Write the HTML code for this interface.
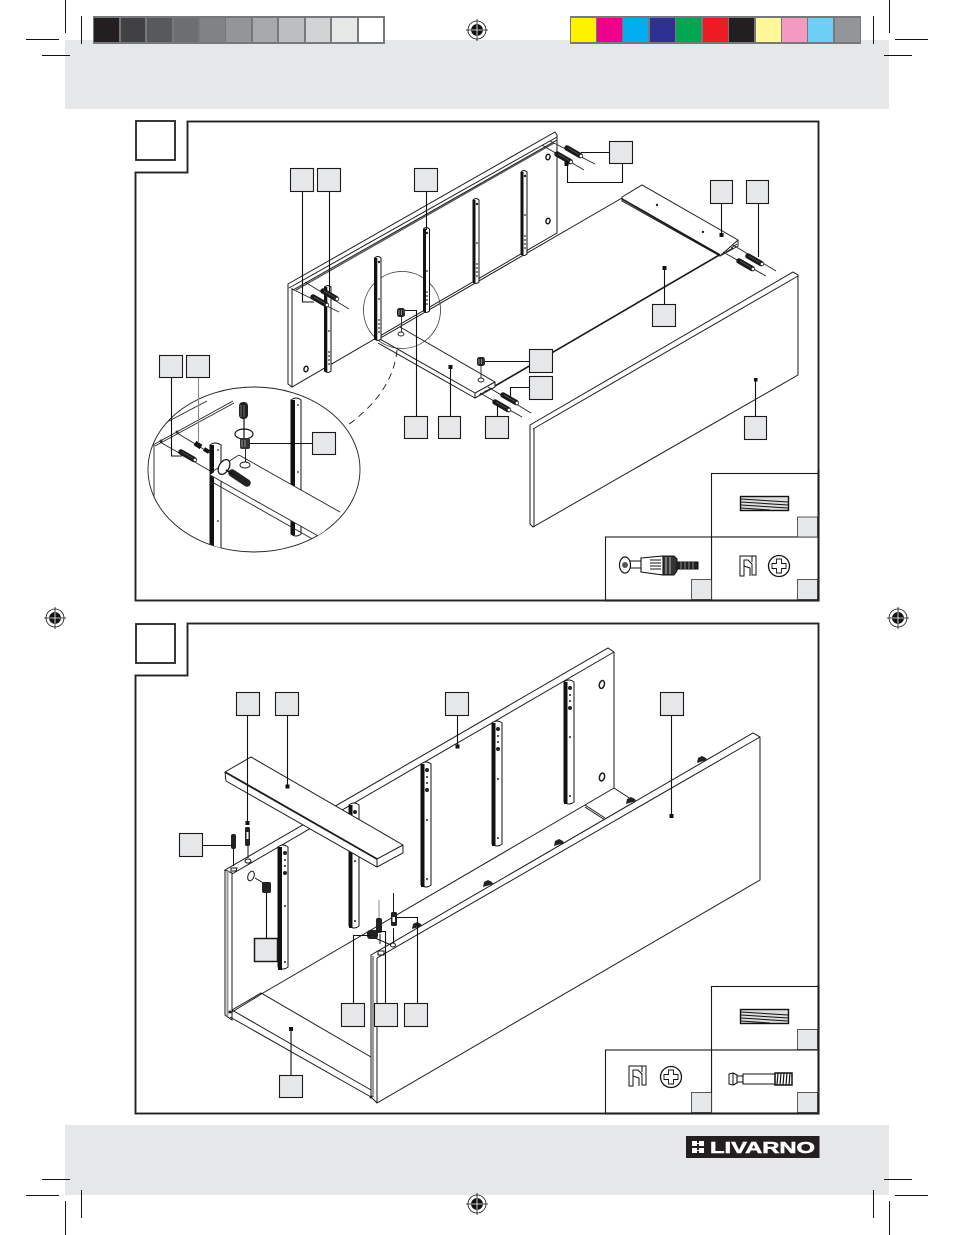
<!DOCTYPE html>
<html><head><meta charset="utf-8"><style>
html,body{margin:0;padding:0;background:#fff}
svg{display:block}
</style></head><body>
<svg xmlns="http://www.w3.org/2000/svg" width="954" height="1235" viewBox="0 0 954 1235">
<defs>
<clipPath id="ec"><ellipse cx="254" cy="469.5" rx="106" ry="82.5"/></clipPath>
<g id="dowel"><path d="M0 0L13 7.5" stroke="#1a1a1a" stroke-width="5.5" stroke-linecap="round"/><path d="M1 0L12 6.500" stroke="#666" stroke-width=".7"/><circle cx="14" cy="8" r="1.800" fill="#fff" stroke="#111" stroke-width=".8"/></g>
<g id="cam"><rect x="0" y="0" width="8" height="9" rx="2.500" fill="#222"/><path d="M2 2V7M4.500 2V7" stroke="#aaa" stroke-width=".8"/><path d="M7 1.500V5" stroke="#555" stroke-width="1"/></g>
<g id="dots"><circle cx="0" cy="0" r=".9" fill="#222"/><circle cx="0" cy="4" r=".9" fill="#222"/><circle cx="0" cy="8" r=".9" fill="#222"/><circle cx="0" cy="12" r=".9" fill="#222"/></g>
</defs>
<rect x="65" y="40" width="824" height="69" fill="#e6e7e8"/>
<rect x="65" y="1125" width="824" height="70" fill="#e6e7e8"/>
<!-- gray bar -->
<rect x="93" y="16" width="292" height="28" fill="#77787b"/>
<g>
<rect x="94" y="18" width="25" height="24" fill="#231f20"/><rect x="121" y="18" width="24" height="24" fill="#414042"/><rect x="147" y="18" width="25" height="24" fill="#58595b"/><rect x="174" y="18" width="24" height="24" fill="#6d6e71"/><rect x="200" y="18" width="25" height="24" fill="#808285"/><rect x="226" y="18" width="25" height="24" fill="#939598"/><rect x="253" y="18" width="24" height="24" fill="#a7a9ac"/><rect x="279" y="18" width="25" height="24" fill="#bcbec0"/><rect x="306" y="18" width="24" height="24" fill="#d1d3d4"/><rect x="332" y="18" width="25" height="24" fill="#e6e8e6"/><rect x="359" y="18" width="24" height="24" fill="#fff"/>
</g>
<!-- colour bar -->
<rect x="570" y="16" width="291" height="28" fill="#77787b"/>
<rect x="571" y="18" width="25" height="24" fill="#fff200"/><rect x="597" y="18" width="25" height="24" fill="#ec008c"/><rect x="623" y="18" width="25" height="24" fill="#00aeef"/><rect x="650" y="18" width="25" height="24" fill="#2e3192"/><rect x="676" y="18" width="25" height="24" fill="#00a651"/><rect x="703" y="18" width="25" height="24" fill="#ed1c24"/><rect x="729" y="18" width="25" height="24" fill="#231f20"/><rect x="756" y="18" width="25" height="24" fill="#fff799"/><rect x="782" y="18" width="25" height="24" fill="#f49ac1"/><rect x="808" y="18" width="25" height="24" fill="#6dcff6"/><rect x="835" y="18" width="25" height="24" fill="#939598"/>
<!-- crop marks -->
<g stroke="#111" stroke-width="1" fill="none">
<path d="M65.500 0V33M81.500 16V44M26 39.500H59M42 55.500H70"/>
<path d="M873.500 16V44M889.500 0V33M895 39.500H928M884 55.500H912"/>
<path d="M65.500 1201V1235M81.500 1190V1218M26 1195.500H59M42 1179.500H70"/>
<path d="M873.500 1190V1218M889.500 1201V1235M895 1195.500H928M884 1179.500H912"/>
</g>
<!-- registration marks -->
<g stroke="#111" fill="none" stroke-width=".8">
<g transform="translate(477,30)"><circle r="9"/><circle r="5.500" fill="#111"/><path d="M-11 0H11M0-11V11"/><path d="M-5.500 0H5.500M0-5.500V5.500" stroke="#fff"/></g>
<g transform="translate(55,618)"><circle r="9"/><circle r="5.500" fill="#111"/><path d="M-11 0H11M0-11V11"/><path d="M-5.500 0H5.500M0-5.500V5.500" stroke="#fff"/></g>
<g transform="translate(898,618)"><circle r="9"/><circle r="5.500" fill="#111"/><path d="M-11 0H11M0-11V11"/><path d="M-5.500 0H5.500M0-5.500V5.500" stroke="#fff"/></g>
<g transform="translate(477,1204)"><circle r="9"/><circle r="5.500" fill="#111"/><path d="M-11 0H11M0-11V11"/><path d="M-5.500 0H5.500M0-5.500V5.500" stroke="#fff"/></g>
</g>
<!-- frames -->
<g fill="#fff" stroke="#aaa" stroke-width="2.500"><path d="M187.500 121.500H818.500V600.500H135.500V172.500H187.500Z"/><path d="M187.500 623.500H818.500V1113.500H135.500V675.500H187.500Z"/></g>
<g fill="none" stroke="#222" stroke-width="1.500"><path d="M187.500 121.500H818.500V600.500H135.500V172.500H187.500Z"/><path d="M187.500 623.500H818.500V1113.500H135.500V675.500H187.500Z"/>
<rect x="136" y="121" width="39" height="39" stroke-width="1.800"/><rect x="136" y="624" width="39" height="39" stroke-width="1.800"/></g>

<!-- ============ FIG 1 =========== -->
<g fill="none" stroke="#1a1a1a" stroke-width="1">
<!-- back panel -->
<path fill="#fff" d="M288 284L555 132L557 135V233L292 387L288 384Z"/>
<path d="M292 288V387M289 288L557 137M293 290L557 140"/>
<path d="M296 290L554 143" stroke-width="1.300" stroke="#555"/>
<!-- holes -->
<ellipse cx="548" cy="157" rx="2" ry="2.800" stroke-width="1.500" transform="rotate(15 548 157)"/><ellipse cx="548" cy="221" rx="2" ry="2.800" stroke-width="1.500" transform="rotate(15 548 221)"/><ellipse cx="306" cy="369" rx="2" ry="2.800" stroke-width="1.500" transform="rotate(15 306 369)"/>
<!-- bottom panel edge -->
<path d="M377 340L622 198"/>
<path d="M400 327L495 382V387L475 398V393L495 382"/>
<path d="M378 338L475 393M378 343L475 398"/>
<path d="M479 395L487 390M484 392L492 388" stroke-width=".7"/>
<path d="M495 386L721 254" stroke-width="1.600"/>
<!-- end board right -->
<path fill="#fff" d="M622 197L642 185L738 240V246L720 256L622 201Z"/>
<path d="M622 199L720 255" stroke-width="1.800"/><path d="M720 256L738 240" />
<path d="M726 252L733 248M731 248L737 244" stroke-width=".8"/>
<!-- front panel -->
<path fill="#fff" d="M530 425L793 272L798 275V375L533 527L530 524Z"/>
<path d="M534 428V527M533 429L798 276"/>
<!-- small circle -->
<circle cx="402" cy="310" r="38.500" stroke="#333" stroke-width=".8"/>
<path d="M397 350Q393 392 348 425" stroke-dasharray="7 5" stroke-width=".9"/>
</g>
<!-- rails fig1 -->
<g stroke="#111" fill="#fff" stroke-width="1">
<path d="M324.500 287Q328 284 331 287V371Q328 374 324.500 371Z"/><rect x="324.500" y="287" width="2.800" height="85" fill="#111" stroke="none"/>
<path d="M374.500 258Q378 255 381 258V339Q378 342 374.500 339Z"/><rect x="374.500" y="258" width="2.800" height="82" fill="#111" stroke="none"/>
<path d="M423.500 229Q426 226 429.500 229V311Q426 314 423.500 311Z"/><rect x="423.500" y="229" width="2.500" height="83" fill="#111" stroke="none"/>
<path d="M473 200Q476 197 479 200V282Q476 285 473 282Z"/><rect x="473" y="200" width="2.500" height="83" fill="#111" stroke="none"/>
<path d="M521 172Q524 169 527 172V254Q524 257 521 254Z"/><rect x="521" y="172" width="2.500" height="83" fill="#111" stroke="none"/>
</g>
<use href="#dots" x="329" y="352"/><use href="#dots" x="379" y="320"/><use href="#dots" x="427" y="292"/><use href="#dots" x="477" y="264"/><use href="#dots" x="525" y="236"/>
<g fill="#222"><circle cx="329" cy="331" r=".9"/><circle cx="379" cy="299" r=".9"/><circle cx="427" cy="271" r=".9"/><circle cx="477" cy="243" r=".9"/><circle cx="525" cy="215" r=".9"/><circle cx="379" cy="262" r="1.200"/><circle cx="427" cy="233" r="1.200"/><circle cx="477" cy="204" r="1.200"/><circle cx="525" cy="176" r="1.200"/></g>
<!-- dowels & guide lines fig1 -->
<g fill="none" stroke="#222" stroke-width=".9">
<path d="M305 282L349 309M292 289L339 312M542 145L584 170M550 141L595 164M733 245L776 271M723 252L766 276M480 393L522 417M488 387L531 413"/>
<path d="M401.500 317V332M481 365V378"/>
<ellipse cx="401" cy="334" rx="3" ry="2"/><ellipse cx="481" cy="380" rx="3" ry="2"/>
</g>
<g>
<use href="#dowel" x="313" y="297"/><use href="#dowel" x="323" y="291"/>
<use href="#dowel" x="567" y="148"/><use href="#dowel" x="557" y="154"/>
<use href="#dowel" x="748" y="256"/><use href="#dowel" x="739" y="261"/>
<use href="#dowel" x="495" y="402"/><use href="#dowel" x="503" y="395"/>
<use href="#cam" x="397" y="308"/><use href="#cam" x="477" y="357"/>
<rect x="564.500" y="161" width="4" height="5" fill="#111"/>
<circle cx="657" cy="205" r="1.200" fill="#222"/><circle cx="703" cy="232" r="1.200" fill="#222"/>
</g>
<!-- connector lines fig1 -->
<g fill="none" stroke="#111" stroke-width="1.100">
<path d="M302.500 191V302H314M329.500 191V292M426.500 191V230"/>
<path d="M581 152.500H609M622.500 163V182.500H567.500V165"/>
<path d="M721.500 203V235M758.500 203V257M664.500 268V304"/>
<path d="M405 310.500H416.500V416M485 361.500H529M529 387.500H510.500V397"/>
<path d="M497.500 406V416M450.500 367V416M755.500 380V416"/>
</g>
<g fill="#111"><rect x="719.500" y="233" width="4" height="4"/><rect x="662.500" y="266" width="4" height="4"/><rect x="448.500" y="365" width="4" height="4"/><rect x="754" y="378" width="3.500" height="3.500"/></g>

<!-- big ellipse -->
<ellipse cx="254" cy="469.5" rx="106" ry="82.5" fill="#fff" stroke="#222" stroke-width=".9"/>
<g clip-path="url(#ec)">
<g fill="none" stroke="#222" stroke-width=".9">
<path d="M167 422L207 401M153 445L233 401M155 446L234 403" />
<path d="M177 433L210 453M160 442L212 472M154 445V510"/>
</g>
<g stroke="#111" fill="#fff">
<path d="M291 400Q296 396 301 400V534Q296 538 291 534Z"/><rect x="291" y="400" width="4" height="135" fill="#111" stroke="none"/>
<path d="M210 445Q215 441 221 445V560H210Z"/><rect x="210" y="445" width="4" height="115" fill="#111" stroke="none"/>
</g>
<g fill="#222"><circle cx="298" cy="405" r=".9"/><circle cx="298" cy="472" r=".9"/><circle cx="218" cy="450" r=".9"/><circle cx="218" cy="521" r=".9"/></g>
<polygon points="239,455 340,512 320,537 210,475" fill="#fff"/>
<g fill="none" stroke="#222" stroke-width=".9">
<path d="M239 455L340 512M210 473L239 455M210 475L320 537M212 482L316 541M210 473V482"/>
</g>
<rect x="239" y="402" width="9" height="17" rx="4" fill="#222"/>
<path d="M241 405V417M244 405V417" stroke="#999" stroke-width=".7"/>
<path d="M244 419V438" stroke="#111" stroke-width="1.200"/>
<ellipse cx="244" cy="434" rx="9" ry="5" fill="none" stroke="#111" stroke-width="1.200"/>
<rect x="240" y="438" width="10" height="11" rx="2" fill="#333"/><path d="M242 440V447M245 440V447" stroke="#aaa" stroke-width=".8"/>
<path d="M245.500 449V462" stroke="#111" stroke-width=".9"/>
<ellipse cx="245" cy="465" rx="5" ry="3" fill="none" stroke="#111" stroke-width=".9"/>
<path d="M232 473L247 483" stroke="#222" stroke-width="7.500" stroke-linecap="round"/>
<ellipse cx="224" cy="467" rx="5" ry="8" fill="#fff" stroke="#111" stroke-width="1.200" transform="rotate(30 224 467)"/>
<path d="M226 470L234 475" stroke="#111" stroke-width="1.400"/>
<use href="#dowel" x="181" y="452"/><path d="M195 443L201 447" stroke="#111" stroke-width="5"/><path d="M204 449L209 452" stroke="#111" stroke-width="4"/>
<circle cx="161" cy="441" r="1.500" fill="#333"/><circle cx="177" cy="432" r="1.500" fill="#333"/>
</g>
<path d="M171.500 377V456H182" fill="none" stroke="#111" stroke-width="1.100"/>
<path d="M198.500 377V443" fill="none" stroke="#888" stroke-width="1.100"/>
<path d="M312 443.500H250" fill="none" stroke="#111" stroke-width="1.100"/>

<!-- ============ FIG 2 =========== -->
<g fill="none" stroke="#1a1a1a" stroke-width="1">
<path fill="#fff" d="M225 870L608 648L614 652V788L585 805L263 993L232 1012V873Z"/>
<path d="M232 874L614 652"/>
<ellipse cx="602" cy="684.500" rx="2.500" ry="4" stroke-width="1.500" transform="rotate(15 602 684)"/>
<ellipse cx="602" cy="777" rx="2.500" ry="4" stroke-width="1.500" transform="rotate(15 602 777)"/>
<path d="M614 788L634 801M585 805L605 818M585 807L605 820"/>
<path d="M225 870V1015L232 1020V874" />
<path d="M232 1010L261 993L371 1057M232 1010L371 1090M230 1017L371 1097"/>
<path fill="#fff" d="M371 955L753 733L760 737V880L377 1103L371 1097Z"/>
<path d="M377 958L760 737M377 958V1103"/>
<path d="M373 956V1097" stroke="#999" stroke-width="2"/>
</g>
<path d="M227.500 871V1016" stroke="#999" stroke-width="2"/>
<circle cx="230" cy="1012" r="1.500" fill="#222"/><circle cx="371" cy="1097" r="1.500" fill="#222"/>
<!-- rails fig2 -->
<g stroke="#111" fill="#fff" stroke-width="1">
<path d="M564 682Q569 678 574 682V802Q569 806 564 802Z"/><rect x="564" y="682" width="3.500" height="122" fill="#111" stroke="none"/>
<path d="M492 723Q497 719 502 723V844Q497 848 492 844Z"/><rect x="492" y="723" width="3.500" height="123" fill="#111" stroke="none"/>
<path d="M421 764Q426 760 431 764V885Q426 889 421 885Z"/><rect x="421" y="764" width="3.500" height="123" fill="#111" stroke="none"/>
<path d="M349 805Q354 801 359 805V926Q354 930 349 926Z"/><rect x="349" y="805" width="3.500" height="123" fill="#111" stroke="none"/>
<path d="M278 847Q283 843 288 847V967Q283 971 278 967Z"/><rect x="278" y="847" width="4" height="123" fill="#111" stroke="none"/>
</g>
<g fill="#222"><circle cx="570" cy="688" r="2"/><circle cx="570" cy="708" r="2"/><circle cx="570" cy="695" r="1"/><circle cx="570" cy="701" r="1"/><circle cx="570" cy="737" r="1"/><circle cx="570" cy="796" r="1"/><circle cx="498" cy="729" r="2"/><circle cx="498" cy="749" r="2"/><circle cx="498" cy="736" r="1"/><circle cx="498" cy="742" r="1"/><circle cx="498" cy="779" r="1"/><circle cx="498" cy="838" r="1"/><circle cx="427" cy="770" r="2"/><circle cx="427" cy="790" r="2"/><circle cx="427" cy="777" r="1"/><circle cx="427" cy="783" r="1"/><circle cx="427" cy="820" r="1"/><circle cx="427" cy="879" r="1"/><circle cx="355" cy="812" r="2"/><circle cx="355" cy="861" r="1"/><circle cx="355" cy="921" r="1"/><circle cx="285" cy="853" r="2"/><circle cx="285" cy="873" r="2"/><circle cx="285" cy="860" r="1"/><circle cx="285" cy="866" r="1"/><circle cx="285" cy="906" r="1"/><circle cx="285" cy="962" r="1"/></g>
<!-- shelf -->
<g stroke="#1a1a1a" fill="#fff" stroke-width="1">
<path d="M225 772L251 757L403 845V853L377 867L226 781Z"/>
<path d="M225 772L377 859" stroke-width="1.800" fill="none"/><path d="M377 859L403 845M377 859V867" fill="none"/>
</g>
<!-- brackets on front panel -->
<g fill="#222"><path d="M697 763L698 758L702 756L706 758L707 760Z"/><path d="M626 804L627 799L631 797L635 799L636 801Z"/><path d="M554 846L555 841L559 839L563 841L564 843Z"/><path d="M483 887L484 882L488 880L492 882L493 884Z"/><path d="M412 929L413 924L417 922L421 924L422 926Z"/></g>
<!-- hardware fig2 -->
<g fill="none" stroke="#111" stroke-width="1">
<path d="M248 845V858M233.500 848V866M255 878L265 884M393.500 893V912M393.500 928V943M375 938L391 945M380 934V944"/>
<ellipse cx="248" cy="861" rx="3" ry="2"/><path d="M231 868H237L236 871H231Z"/>
<ellipse cx="251" cy="876" rx="3" ry="5" transform="rotate(20 251 876)"/>
<ellipse cx="393" cy="945" rx="2.500" ry="2"/><path d="M378 951H384V955H378Z"/>
</g>
<path d="M379 900V918" stroke="#888" stroke-width="1"/>
<g fill="#222">
<rect x="245" y="827" width="5" height="19" rx="1.500"/><rect x="246.500" y="832" width="2" height="7" fill="#fff"/>
<rect x="231" y="834" width="5" height="15" rx="2"/>
<rect x="262" y="882" width="9" height="11" rx="2"/>
<rect x="367" y="930" width="11" height="9" rx="3"/><rect x="376" y="918" width="6" height="15" rx="2"/>
<rect x="391" y="912" width="6" height="14" rx="1.500"/><rect x="392.500" y="917" width="2.500" height="5" fill="#fff"/>
</g>
<!-- connectors fig2 -->
<g fill="none" stroke="#111" stroke-width="1.100">
<path d="M247.500 715V823M287.500 715V786M457.500 715V746M671.500 715V816"/>
<path d="M202 845.500H233M266.500 893V938M353.500 1003V935.500H370M385.500 1003V931.500H380M417.500 1003V917.500H397"/>
<path d="M291 1028V1075"/>
</g>
<g fill="#111"><rect x="245.500" y="821" width="4" height="4"/><rect x="285.500" y="784.500" width="4" height="4"/><rect x="455.500" y="744.500" width="4" height="4"/><rect x="669.500" y="814" width="4" height="4"/><rect x="289" y="1027" width="4" height="4"/></g>

<!-- legends -->
<g fill="#fff" stroke="#1a1a1a" stroke-width="1.100">
<rect x="711.500" y="473.500" width="106.500" height="63.500"/><rect x="711.500" y="537" width="106.500" height="63"/><rect x="605.500" y="537" width="106" height="63"/>
<rect x="711.500" y="986.500" width="106.500" height="63.500"/><rect x="711.500" y="1050" width="106.500" height="63"/><rect x="605.500" y="1050" width="106" height="63"/>
</g>
<path d="M818.500 470V600.500H605M818.500 985V1113.500H605" fill="none" stroke="#222" stroke-width="1.800"/>
<!-- label boxes -->
<g fill="#e6e7e8" stroke="#1a1a1a" stroke-width="1.100">
<rect x="290.500" y="168.500" width="23" height="23"/><rect x="317.500" y="168.500" width="23" height="23"/><rect x="414.500" y="168.500" width="23" height="23"/><rect x="609.500" y="141.500" width="23" height="22"/><rect x="710.500" y="180.500" width="22" height="23"/><rect x="746.500" y="180.500" width="22" height="23"/><rect x="652.500" y="304.500" width="23" height="22"/><rect x="529.500" y="349.500" width="23" height="23"/><rect x="529.500" y="376.500" width="23" height="23"/><rect x="404.500" y="416.500" width="23" height="22"/><rect x="438.500" y="416.500" width="22" height="22"/><rect x="485.500" y="416.500" width="23" height="22"/><rect x="744.500" y="416.500" width="22" height="23"/><rect x="159.500" y="355.500" width="23" height="22"/><rect x="186.500" y="355.500" width="23" height="22"/><rect x="312.500" y="432.500" width="23" height="22"/>
<rect x="236.500" y="692.500" width="23" height="23"/><rect x="275.500" y="692.500" width="23" height="23"/><rect x="445.500" y="692.500" width="23" height="23"/><rect x="660.500" y="692.500" width="23" height="23"/><rect x="179.500" y="833.500" width="23" height="23"/><rect x="254.500" y="938.500" width="23" height="23" stroke-width="1.500"/><rect x="341.500" y="1003.500" width="23" height="23"/><rect x="374.500" y="1003.500" width="23" height="23"/><rect x="404.500" y="1003.500" width="23" height="23"/><rect x="279.500" y="1075.500" width="23" height="22"/>
</g>
<g fill="#e6e7e8" stroke="#333" stroke-width=".8">
<rect x="797.500" y="517" width="20" height="20"/><rect x="797.500" y="579.500" width="20" height="20"/><rect x="691.500" y="579.500" width="20" height="20"/>
<rect x="797.500" y="1029.500" width="20" height="20"/><rect x="797.500" y="1092.500" width="20" height="20"/><rect x="691.500" y="1092.500" width="20" height="20"/>
</g>
<!-- legend icons -->
<g fill="none" stroke="#111" stroke-width="1">
<rect x="740.500" y="496.500" width="48" height="14" stroke-width="1.400" fill="#ddd"/><path d="M741 499L788 502M741 502L788 505M741 505L788 508M741 508L770 510" stroke-width="1"/>
<rect x="740.500" y="1009.500" width="48" height="14" stroke-width="1.400" fill="#ddd"/><path d="M741 1012L788 1015M741 1015L788 1018M741 1018L788 1021M741 1021L770 1023" stroke-width="1"/>
<path d="M740 576V556H748L756 556V575H752V564L748 560H744V576Z"/><path d="M752 556V562M744 560V566L750 568V576"/>
<circle cx="779" cy="566" r="10.500" stroke-width="1.300"/><path d="M776.500 559H781.500V563.500H786V568.500H781.500V573H776.500V568.500H772V563.500H776.500Z" stroke-width=".9"/>
<path d="M629 1086V1066H637L646 1066V1085H642V1074L638 1070H633V1086Z"/><path d="M642 1066V1072M633 1070V1076L639 1078V1086"/>
<circle cx="671" cy="1077" r="10.500" stroke-width="1.300"/><path d="M668.500 1070H673.500V1074.500H678V1079.500H673.500V1084H668.500V1079.500H664V1074.500H668.500Z" stroke-width=".9"/>
<!-- screw fig1 -->
<ellipse cx="625" cy="565" rx="5.500" ry="8" stroke-width="1.200"/><circle cx="625" cy="565" r="3" fill="#555" stroke="none"/>
<path d="M630 561H641M630 568H641"/><path d="M641 558L663 556V575L641 572Z" stroke-width="1.100"/><path d="M650 560H661M650 563H661M650 566H661M650 569H661" stroke-width=".9"/>
<path d="M663 556H674L677 559V571L674 575H663Z" fill="#333"/><path d="M666 557V574M670 557V574" stroke="#bbb" stroke-width="1"/>
<path d="M677 562H698V569H677Z" fill="#222"/><path d="M681 561V570M685 561V570M689 561V570M693 561V570" stroke="#888" stroke-width="1"/>
<!-- bolt fig2 -->
<path d="M729 1074L733 1073V1085L729 1084Z"/><path d="M733 1073L737 1075V1083L733 1085M737 1076H743V1082H737M743 1074H775V1084H743Z" stroke-width="1.100"/>
<rect x="775" y="1073" width="17" height="12" fill="#fff" stroke-width="1.500"/><path d="M778 1073L777 1085M781 1073L780 1085M784 1073L783 1085M787 1073L786 1085M790 1073L789 1085" stroke-width="1.200"/>
</g>
<!-- logo -->
<rect x="686" y="1136" width="133.500" height="22" fill="#231f20"/>
<g fill="#fff"><rect x="692" y="1141" width="5" height="5"/><rect x="699" y="1141" width="5" height="5"/><rect x="692" y="1148" width="5" height="5"/><rect x="699" y="1148" width="5" height="5"/></g>
<path d="M697 1143.500H699M697 1150.500H699" stroke="#fff" stroke-width="1"/>
<text x="710" y="1153" font-family="'Liberation Sans',sans-serif" font-weight="700" font-size="16" fill="#fff" stroke="#fff" stroke-width=".5" textLength="105" lengthAdjust="spacingAndGlyphs">LIVARNO</text>
</svg>
</body></html>
